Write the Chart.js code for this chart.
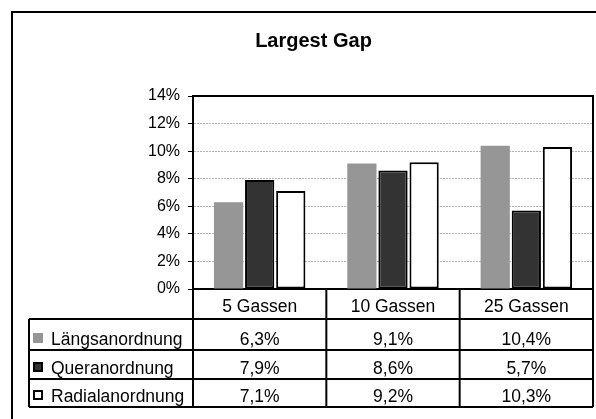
<!DOCTYPE html>
<html><head><meta charset="utf-8">
<script src="https://cdn.jsdelivr.net/npm/chart.js@4.4.1/dist/chart.umd.min.js"></script>
<style>html,body{margin:0;padding:0;background:#fff;overflow:hidden}#wrap{position:relative;width:596px;height:419px}canvas{display:block}</style>
</head><body><div id="wrap"><canvas id="c" width="596" height="419"></canvas></div>
<script>
const chartTitle = 'Largest Gap';
const categories = ['5 Gassen', '10 Gassen', '25 Gassen'];
const seriesNames = ['Längsanordnung', 'Queranordnung', 'Radialanordnung'];
const laengs = [6.3, 9.1, 10.4];
const quer = [7.9, 8.6, 5.7];
const radial = [7.1, 9.2, 10.3];
const yTicks = [0, 2, 4, 6, 8, 10, 12, 14];

const FONT = "'Liberation Sans', Arial, sans-serif";
const colors = ['#969696', '#333333', '#ffffff'];
const borders = [0, 2, 2];
const seriesValues = [laengs, quer, radial];

function fmt(v) { return v.toFixed(1).replace('.', ',') + '%'; }

const framePlugin = {
  id: 'frame',
  beforeDraw(chart) {
    const ctx = chart.ctx;
    ctx.save();
    ctx.fillStyle = '#fff';
    ctx.fillRect(0, 0, chart.width, chart.height);
    ctx.strokeStyle = '#000';
    ctx.lineWidth = 2;
    ctx.strokeRect(12, 12, 800, 800);
    ctx.fillStyle = '#000';
    ctx.font = 'bold 20px ' + FONT;
    ctx.textAlign = 'center';
    ctx.textBaseline = 'alphabetic';
    ctx.fillText(chartTitle, 313.5, 47);
    ctx.restore();
  }
};

const plotBorderPlugin = {
  id: 'plotBorder',
  afterDatasetsDraw(chart) {
    const ctx = chart.ctx, a = chart.chartArea;
    ctx.save();
    ctx.strokeStyle = '#000';
    ctx.lineWidth = 2;
    ctx.beginPath();
    ctx.moveTo(a.left, a.top);
    ctx.lineTo(a.right, a.top);
    ctx.lineTo(a.right, a.bottom);
    ctx.stroke();
    ctx.restore();
  }
};

const tablePlugin = {
  id: 'dataTable',
  afterDraw(chart) {
    const ctx = chart.ctx, a = chart.chartArea, xs = chart.scales.x;
    const n = categories.length;
    const bounds = [a.left];
    for (let i = 1; i < n; i++) bounds.push((xs.getPixelForValue(i - 1) + xs.getPixelForValue(i)) / 2);
    bounds.push(a.right);
    const rowH = [30, 31, 29, 28];
    const rows = [a.bottom];
    rowH.forEach(h => rows.push(rows[rows.length - 1] + h));
    const tableLeft = 29;
    ctx.save();
    ctx.strokeStyle = '#000';
    ctx.lineWidth = 2;
    ctx.beginPath();
    bounds.forEach(x => { ctx.moveTo(x, rows[0]); ctx.lineTo(x, rows[rows.length - 1]); });
    ctx.moveTo(tableLeft, rows[1]); ctx.lineTo(tableLeft, rows[rows.length - 1]);
    for (let r = 1; r < rows.length; r++) { ctx.moveTo(tableLeft, rows[r]); ctx.lineTo(a.right, rows[r]); }
    ctx.stroke();

    ctx.fillStyle = '#000';
    ctx.font = '17.5px ' + FONT;
    ctx.textBaseline = 'alphabetic';
    ctx.textAlign = 'center';
    categories.forEach((c, i) => {
      ctx.fillText(c, (bounds[i] + bounds[i + 1]) / 2, rows[1] - 7);
    });
    seriesNames.forEach((s, r) => {
      const base = rows[r + 2] - 5;
      const kx = 33, ky = base - 12;
      ctx.fillStyle = colors[r];
      ctx.fillRect(kx, ky, 10, 10);
      if (borders[r]) { ctx.lineWidth = 2; ctx.strokeStyle = '#000'; ctx.strokeRect(kx + 1, ky + 1, 8, 8); }
      ctx.fillStyle = '#000';
      ctx.textAlign = 'left';
      ctx.fillText(s, 51, base);
      ctx.textAlign = 'center';
      seriesValues[r].forEach((v, i) => {
        ctx.fillText(fmt(v), (bounds[i] + bounds[i + 1]) / 2, base);
      });
    });
    ctx.restore();
  }
};

new Chart(document.getElementById('c'), {
  type: 'bar',
  data: {
    labels: categories,
    datasets: seriesNames.map((name, i) => ({
      label: name,
      data: seriesValues[i],
      backgroundColor: colors[i],
      borderColor: '#000',
      borderWidth: borders[i],
      borderSkipped: false,
      categoryPercentage: 0.70,
      barPercentage: 0.94
    }))
  },
  options: {
    responsive: false,
    animation: false,
    devicePixelRatio: 1,
    layout: { padding: { top: 96, left: 0, right: 3, bottom: 130 } },
    plugins: { legend: { display: false }, title: { display: false }, tooltip: { enabled: false } },
    scales: {
      x: {
        display: true,
        grid: { display: false, drawTicks: false },
        ticks: { display: false },
        border: { display: true, color: '#000', width: 2 }
      },
      y: {
        min: 0, max: 14,
        afterBuildTicks(scale) { scale.ticks = yTicks.map(v => ({ value: v })); },
        afterFit(scale) { scale.width = 193; },
        ticks: {
          callback: v => v + '%',
          color: '#000',
          font: { family: FONT, size: 16 },
          padding: 8
        },
        grid: {
          color: ctx => (ctx.tick && (ctx.tick.value === 0 || ctx.tick.value === 14)) ? 'rgba(0,0,0,0)' : '#b4b4b4',
          lineWidth: 1,
          tickLength: 5,
          tickColor: '#000',
          tickWidth: 1,
          tickBorderDash: []
        },
        border: { display: true, color: '#000', width: 2, dash: [2, 1] }
      }
    }
  },
  plugins: [framePlugin, plotBorderPlugin, tablePlugin]
});
</script>
</body></html>
